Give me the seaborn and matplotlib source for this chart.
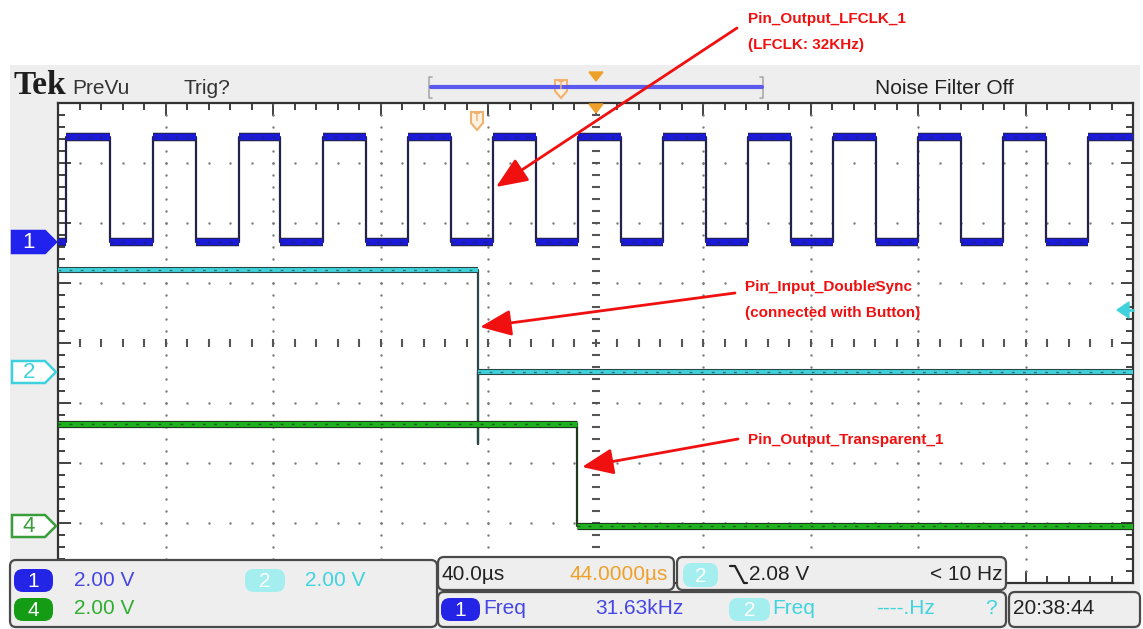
import numpy as np
import pandas as pd
import seaborn as sns
import matplotlib.pyplot as plt
from matplotlib.patches import Polygon, Rectangle, FancyBboxPatch, FancyArrowPatch
import matplotlib.patheffects as pe

# scope screen: 10 x 8 divisions
time_per_div = 40.0     # us / div
volts_per_div = 2.0     # V / div

# Channel 1 (LFCLK, ~32 kHz) edge times in us, from the left edge of the screen
ch1_rise_us = [3.0, 35.3, 67.3, 98.6, 130.2, 161.9, 193.5, 225.1, 256.7, 288.4, 320.0, 351.6, 383.3]
ch1_fall_us = [19.3, 51.3, 82.6, 114.6, 146.2, 177.9, 209.5, 241.1, 272.7, 304.4, 336.0, 367.6]
ch1_high_v = 3.5
ch1_offset_div = 1.68

# Channel 2 (DoubleSync input) and channel 4 (Transparent output)
ch2_t_us = [0.0, 156.3, 156.3, 156.3, 400.0]
ch2_v = [3.4, 3.4, -2.4, 0.0, 0.0]
ch2_offset_div = -0.48

ch4_t_us = [0.0, 193.1, 193.1, 400.0]
ch4_v = [3.4, 3.4, 0.0, 0.0]
ch4_offset_div = -3.05

BLUE = '#1a1ad8'
CYAN = '#3fd2dc'
GREEN = '#1eb01e'
ORANGE = '#eea12a'
PANEL = '#eeeeee'
RED = '#f01010'


def square_wave(rises, falls, high, t_end):
    edges = sorted([(t, high) for t in rises] + [(t, 0.0) for t in falls])
    ts, vs = [0.0], [0.0]
    for t, v in edges:
        ts += [t, t]
        vs += [vs[-1], v]
    ts.append(t_end)
    vs.append(vs[-1])
    return np.array(ts), np.array(vs)


def main():
    sns.set_theme(style='white')
    plt.rcParams['font.family'] = ['Liberation Sans', 'DejaVu Sans']

    W, H = 1143, 629
    fig = plt.figure(figsize=(W / 100, H / 100), dpi=100, facecolor='white')

    # background frame of the scope screenshot
    bg = fig.add_axes([0, 0, 1, 1], zorder=0)
    bg.set_xlim(0, W)
    bg.set_ylim(H, 0)
    bg.axis('off')
    bg.add_patch(Rectangle((10, 65), 1130, H - 65, color=PANEL, lw=0))

    # scope graticule
    x0, x1, y0, y1 = 58, 1133, 103, 583
    ax = fig.add_axes([x0 / W, 1 - y1 / H, (x1 - x0) / W, (y1 - y0) / H], zorder=1)
    ax.set_facecolor('white')
    ax.set_xlim(0, 10 * time_per_div)
    ax.set_ylim(-4, 4)

    minor_x = np.arange(0, 400.1, 8)
    minor_y = np.arange(-4, 4.01, 0.2)
    for gx in range(40, 400, 40):
        if gx == 200:
            continue
        ax.scatter(np.full(len(minor_y), gx), minor_y, s=3, color='#7a7a7a', lw=0, zorder=1)
    for gy in range(-3, 4):
        if gy == 0:
            continue
        ax.scatter(minor_x, np.full(len(minor_x), gy), s=3, color='#7a7a7a', lw=0, zorder=1)
    ax.plot(np.full(len(minor_y), 200), minor_y, ls='none', marker='_', ms=6, mew=1.5, color='#555555', zorder=1)
    ax.plot(minor_x, np.zeros(len(minor_x)), ls='none', marker='|', ms=6, mew=1.5, color='#555555', zorder=1)

    ax.set_xticks(np.arange(0, 401, 40))
    ax.set_xticks(minor_x, minor=True)
    ax.set_yticks(np.arange(-4, 5, 1))
    ax.set_yticks(minor_y, minor=True)
    ax.tick_params(which='both', direction='in', top=True, right=True, bottom=True, left=True,
                   labelbottom=False, labelleft=False, color='#333333')
    ax.tick_params(which='major', length=9, width=1.3)
    ax.tick_params(which='minor', length=5, width=1.3)
    for s in ax.spines.values():
        s.set_color('#333333')
        s.set_linewidth(1.6)

    # traces
    t1, v1 = square_wave(ch1_rise_us, ch1_fall_us, ch1_high_v, 400.0)
    df = pd.concat([
        pd.DataFrame({'t': t1, 'div': v1 / volts_per_div + ch1_offset_div, 'ch': 'CH1'}),
        pd.DataFrame({'t': ch2_t_us, 'div': np.array(ch2_v) / volts_per_div + ch2_offset_div, 'ch': 'CH2'}),
        pd.DataFrame({'t': ch4_t_us, 'div': np.array(ch4_v) / volts_per_div + ch4_offset_div, 'ch': 'CH4'}),
    ], ignore_index=True)

    dark = {'CH1': '#23234a', 'CH2': '#2b4848', 'CH4': '#1d3a1d'}
    col = {'CH1': BLUE, 'CH2': CYAN, 'CH4': GREEN}
    thick = {'CH1': 4.5, 'CH2': 2.8, 'CH4': 3.6}
    for ch, d in df.groupby('ch'):
        sns.lineplot(data=d, x='t', y='div', ax=ax, sort=False, estimator=None,
                     color=dark[ch], lw=1.6, legend=False, zorder=3)
        # horizontal parts drawn thick in the channel colour
        tt = d['t'].to_numpy()
        yy = d['div'].to_numpy()
        for i in range(len(tt) - 1):
            if yy[i] == yy[i + 1] and tt[i + 1] > tt[i]:
                ax.hlines(yy[i], tt[i], tt[i + 1], color=col[ch], lw=thick[ch], zorder=4,
                          path_effects=[pe.Stroke(linewidth=thick[ch] + 1.6, foreground=dark[ch]), pe.Normal()])
                ax.hlines(yy[i], tt[i], tt[i + 1], color=dark[ch], lw=1.0, zorder=5,
                          linestyles=(0, (2, 6)), alpha=0.7)
    ax.set_xlabel('')
    ax.set_ylabel('')

    # overlay in pixel coordinates
    ov = fig.add_axes([0, 0, 1, 1], zorder=5)
    ov.set_xlim(0, W)
    ov.set_ylim(H, 0)
    ov.axis('off')
    ov.patch.set_alpha(0)

    # header
    ov.text(13, 94, 'Tek', family='Liberation Serif', weight='bold', fontsize=24, color='#1e1e1e', va='baseline')
    ov.text(72, 94, 'PreVu', fontsize=15, color='#333333', va='baseline')
    ov.text(183, 94, 'Trig?', fontsize=15, color='#333333', va='baseline')
    ov.text(875, 94, 'Noise Filter Off', fontsize=15, color='#222222', va='baseline')
    ov.plot([432, 429, 429, 432], [77, 77, 98, 98], color='#aaaaaa', lw=1.2)
    ov.plot([760, 763, 763, 760], [77, 77, 98, 98], color='#aaaaaa', lw=1.2)
    ov.plot([431, 762], [87, 87], color='#5a5aee', lw=3)
    ov.add_patch(Polygon([[589, 72], [603, 72], [596, 81]], color=ORANGE))
    ov.add_patch(Polygon([[589, 104], [603, 104], [596, 113]], color=ORANGE))

    def t_marker(x, y):
        ov.add_patch(Polygon([[x - 6, y - 9], [x + 6, y - 9], [x + 6, y + 2], [x, y + 9], [x - 6, y + 2]],
                             facecolor='#fff2e0', edgecolor='#f1b270', lw=1.5))
        ov.text(x, y - 3, 'T', fontsize=7, color='#f1b270', ha='center', va='center', weight='bold')
    t_marker(561, 89)
    t_marker(477, 121)

    # channel reference markers
    def ch_marker(y, label, color, filled):
        pts = [[12, y - 11], [45, y - 11], [56, y], [45, y + 11], [12, y + 11]]
        ov.add_patch(Polygon(pts, facecolor=color if filled else 'white', edgecolor=color, lw=1.8))
        ov.text(29, y + 1, label, fontsize=16, color='white' if filled else color, ha='center', va='center')
    ch_marker(242, '1', '#2222ee', True)
    ch_marker(372, '2', CYAN, False)
    ch_marker(526, '4', '#3a9e3a', False)
    ov.add_patch(Polygon([[1117, 310], [1129, 302], [1129, 318]], color=CYAN))
    ov.plot([1128, 1133], [310, 310], color=CYAN, lw=2)

    # status panels
    def panel(xa, ya, xb, yb):
        ov.add_patch(FancyBboxPatch((xa, ya), xb - xa, yb - ya, boxstyle='round,pad=0,rounding_size=6',
                                    facecolor=PANEL, edgecolor='#4a4a4a', lw=1.6, zorder=6))

    def pill(xa, ya, xb, yb, label, color):
        ov.add_patch(FancyBboxPatch((xa, ya), xb - xa, yb - ya, boxstyle='round,pad=0,rounding_size=9',
                                    facecolor=color, edgecolor='none', zorder=7))
        ov.text((xa + xb) / 2, (ya + yb) / 2 + 1, label, fontsize=15, color='white',
                ha='center', va='center', zorder=8)

    def label(x, y, s, color, ha='left'):
        ov.text(x, y, s, fontsize=15, color=color, ha=ha, va='center', zorder=8)

    panel(10, 560, 437, 627)
    pill(14, 569, 53, 592, '1', '#2424e6')
    label(74, 580, '2.00 V', '#4646e6')
    pill(245, 569, 285, 592, '2', '#a4eef0')
    label(305, 580, '2.00 V', '#3fd4de')
    pill(14, 598, 53, 621, '4', '#159c15')
    label(74, 609, '2.00 V', '#2fae2f')

    panel(438, 557, 674, 590)
    label(441, 575, '40.0µs', '#222222')
    label(668, 575, '44.0000µs', ORANGE, ha='right')

    panel(677, 557, 1006, 590)
    pill(683, 563, 718, 587, '2', '#a4eef0')
    ov.plot([730, 735, 744, 747], [566, 566, 583, 583], color='#222222', lw=1.6, zorder=8)
    label(749, 575, '2.08 V', '#222222')
    label(1003, 575, '< 10 Hz', '#222222', ha='right')

    panel(438, 592, 1006, 627)
    pill(441, 598, 480, 621, '1', '#2424e6')
    label(483, 609, 'Freq', '#4646e6')
    label(595, 609, '31.63kHz', '#4646e6')
    pill(729, 598, 770, 621, '2', '#a4eef0')
    label(772, 609, 'Freq', '#3fd4de')
    label(876, 609, '----.Hz', '#3fd4de')
    label(985, 609, '?', '#3fd4de')

    panel(1009, 592, 1140, 627)
    label(1013, 609, '20:38:44', '#222222')

    # red annotations
    ann_font = dict(family='Liberation Sans', weight='bold', fontsize=11, color=RED, va='center', zorder=9)
    ov.text(748, 19, 'Pin_Output_LFCLK_1', **ann_font)
    ov.text(748, 45, '(LFCLK: 32KHz)', **ann_font)
    ov.text(745, 287, 'Pin_Input_DoubleSync', **ann_font)
    ov.text(745, 313, '(connected with Button)', **ann_font)
    ov.text(748, 440, 'Pin_Output_Transparent_1', **ann_font)
    for (xa, ya), (xb, yb) in [((737, 28), (496, 187)), ((735, 293), (480, 327)), ((738, 439), (582, 467))]:
        ov.add_patch(FancyArrowPatch((xa, ya), (xb, yb), arrowstyle='-|>,head_length=1.2,head_width=0.5',
                                     mutation_scale=16, color=RED, lw=2, shrinkA=0, shrinkB=0, zorder=9))

    fig.savefig('out.png', dpi=100, facecolor='white')
    plt.close(fig)


if __name__ == "__main__":
    main()
